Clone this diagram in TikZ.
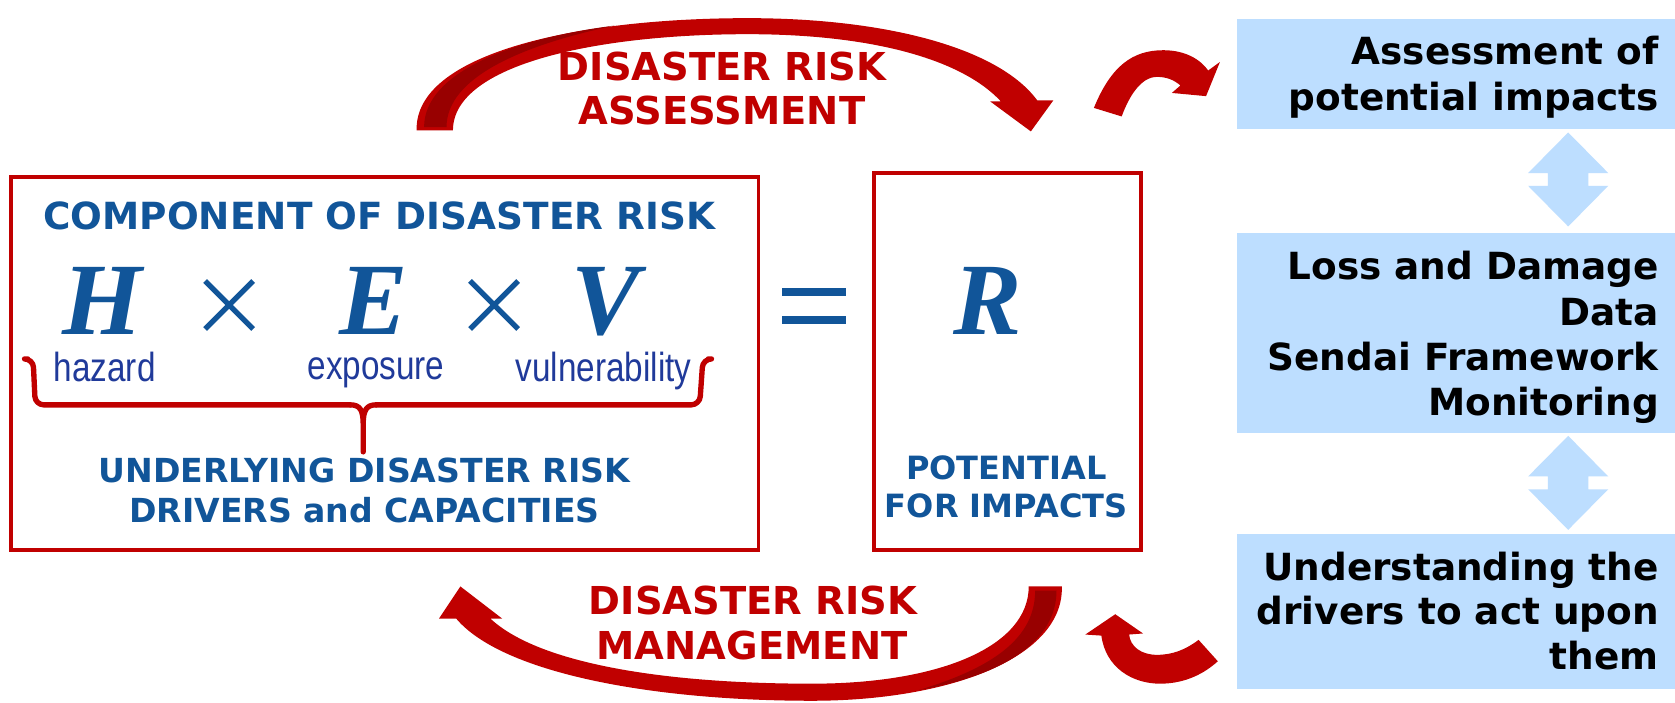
\documentclass[tikz,border=0pt]{standalone}
\usepackage{fontspec}
\setmainfont{DejaVu Sans}
\newfontfamily\narrowfont[FakeStretch=0.82]{Liberation Sans}
\newfontfamily\hevfont{Liberation Serif}
\definecolor{dred}{RGB}{192,0,0}
\definecolor{ddred}{RGB}{152,0,0}
\definecolor{tblue}{RGB}{17,85,153}
\definecolor{nblue}{RGB}{32,58,154}
\definecolor{lblue}{RGB}{189,222,255}
\begin{document}
\begin{tikzpicture}[x=1pt,y=-1pt,
  redtxt/.style={text=dred,font=\fontsize{36}{40}\selectfont\bfseries,anchor=base,inner sep=0pt},
  bluetxt/.style={text=tblue,font=\fontsize{35}{40}\selectfont\bfseries,anchor=base,inner sep=0pt},
  smalltxt/.style={text=tblue,font=\fontsize{31}{36}\selectfont\bfseries,anchor=base,inner sep=0pt},
  boxtxt/.style={text=black,font=\fontsize{35}{40}\selectfont\bfseries,anchor=base east,inner sep=0pt},
  lettertxt/.style={text=tblue,font=\hevfont\fontsize{96}{100}\selectfont\bfseries\itshape,anchor=base,inner sep=0pt},
  labeltxt/.style={text=nblue,font=\narrowfont\fontsize{38}{40}\selectfont,anchor=base,inner sep=0pt},
  redframe/.style={draw=dred,line width=3.5pt},
  timesline/.style={draw=tblue,line width=5pt},
  bracestyle/.style={draw=dred,line width=5pt,line cap=round,line join=round},
  bigarrow/.style={fill=dred},
  lightarrow/.style={fill=lblue}
]
\useasboundingbox (0,0) rectangle (1568,658);
\fill[white] (0,0) rectangle (1568,658);

% frames
\draw[redframe] (10,166) rectangle (710,515);
\draw[redframe] (818,162) rectangle (1068,515);

% left box text
\node[bluetxt] (comp) at (355,215) {COMPONENT OF DISASTER RISK};
\node[lettertxt] (H) at (96,313) {H};
\node[lettertxt] (E) at (350,313) {E};
\node[lettertxt] (V) at (567,313) {V};
\draw[timesline] (192,263) -- (237,308) (237,263) -- (192,308);
\draw[timesline] (440,263) -- (485,308) (485,263) -- (440,308);
\node[labeltxt] (hz) at (98,357) {hazard};
\node[labeltxt] (ex) at (352,355) {exposure};
\node[labeltxt] (vu) at (565,357) {vulnerability};
\draw[bracestyle,rounded corners=8pt]
  (26,336) -- (31,336) -- (33,379) -- (328,379);
\draw[bracestyle]
  (328,379) .. controls (337,379) and (340,384) .. (340,397) -- (340,423)
  (340,397) .. controls (340,384) and (343,379) .. (352,379);
\draw[bracestyle,rounded corners=8pt]
  (352,379) -- (655,379) -- (658,336) -- (663,336);
\node[smalltxt] (u1) at (341,452) {UNDERLYING DISASTER RISK};
\node[smalltxt] (u2) at (341,489) {DRIVERS and CAPACITIES};

% equals
\fill[tblue] (732,270) rectangle (792,277);
\fill[tblue] (732,296) rectangle (792,303);

% right box
\node[lettertxt] (R) at (925,313) {R};
\node[smalltxt,font=\fontsize{30}{34}\selectfont\bfseries] (p1) at (942,449) {POTENTIAL};
\node[smalltxt,font=\fontsize{30}{34}\selectfont\bfseries] (p2) at (942,484) {FOR IMPACTS};

% top big arrow
\fill[bigarrow] (390,122) .. controls (388,50) and (540,17) .. (700,17)
  .. controls (830,17) and (935,45) .. (971,94) -- (986,94) -- (965,123) -- (927,95) -- (937,95)
  .. controls (900,55) and (815,32) .. (700,32)
  .. controls (560,32) and (424,60) .. (424,122) -- cycle;
\fill[ddred] (397,119) .. controls (397,68) and (480,36) .. (575,24)
  .. controls (490,42) and (418,72) .. (418,119) -- cycle;
\node[redtxt] (a1) at (676,75) {DISASTER RISK};
\node[redtxt] (a2) at (676,117) {ASSESSMENT};

% bottom big arrow
\fill[bigarrow] (963,549) -- (994,549) .. controls (996,615) and (890,656) .. (760,656)
  .. controls (610,656) and (470,630) .. (427,579) -- (411,579) -- (431,549) -- (470,579) -- (459,579)
  .. controls (505,622) and (625,640) .. (760,640)
  .. controls (880,640) and (963,605) .. (963,549) -- cycle;
\fill[ddred] (969,553) -- (989,553) .. controls (989,600) and (940,632) .. (860,646)
  .. controls (930,625) and (969,597) .. (969,553) -- cycle;
\node[redtxt] (m1) at (705,575) {DISASTER RISK};
\node[redtxt] (m2) at (704,617) {MANAGEMENT};

% small arrows
\fill[bigarrow] (1024,101) .. controls (1040,62) and (1060,47) .. (1089,47)
  .. controls (1110,47) and (1124,56) .. (1131,66) -- (1142,58) -- (1129,90) -- (1097,87) -- (1105,80)
  .. controls (1098,74) and (1091,72) .. (1083,72)
  .. controls (1068,72) and (1057,90) .. (1050,109) -- cycle;
\fill[bigarrow] (1031,595) .. controls (1035,625) and (1060,640) .. (1086,640)
  .. controls (1110,640) and (1128,630) .. (1140,619) -- (1122,599)
  .. controls (1110,608) and (1098,613) .. (1083,613)
  .. controls (1068,613) and (1058,605) .. (1057,594) -- (1070,593) -- (1044,575) -- (1016,594) -- cycle;

% blue boxes
\fill[lblue] (1158,18) rectangle (1568,121);
\fill[lblue] (1158,218) rectangle (1568,405);
\fill[lblue] (1158,500) rectangle (1568,645);
\node[boxtxt] (b1a) at (1553,60) {Assessment of};
\node[boxtxt] (b1b) at (1553,103) {potential impacts};
\node[boxtxt] (b2a) at (1553,262) {Loss and Damage};
\node[boxtxt] (b2b) at (1553,305) {Data};
\node[boxtxt] (b2c) at (1553,347) {Sendai Framework};
\node[boxtxt] (b2d) at (1553,389) {Monitoring};
\node[boxtxt] (b3a) at (1553,543) {Understanding the};
\node[boxtxt] (b3b) at (1553,585) {drivers to act upon};
\node[boxtxt] (b3c) at (1553,627) {them};

% double arrows
\fill[lightarrow] (1468,124) -- (1505.5,162) -- (1487,162) -- (1487,174) -- (1505.5,174) -- (1468,212)
  -- (1430.5,174) -- (1449,174) -- (1449,162) -- (1430.5,162) -- cycle;
\fill[lightarrow] (1468,408) -- (1505.5,446) -- (1487,446) -- (1487,458) -- (1505.5,458) -- (1468,496)
  -- (1430.5,458) -- (1449,458) -- (1449,446) -- (1430.5,446) -- cycle;
\end{tikzpicture}
\end{document}
